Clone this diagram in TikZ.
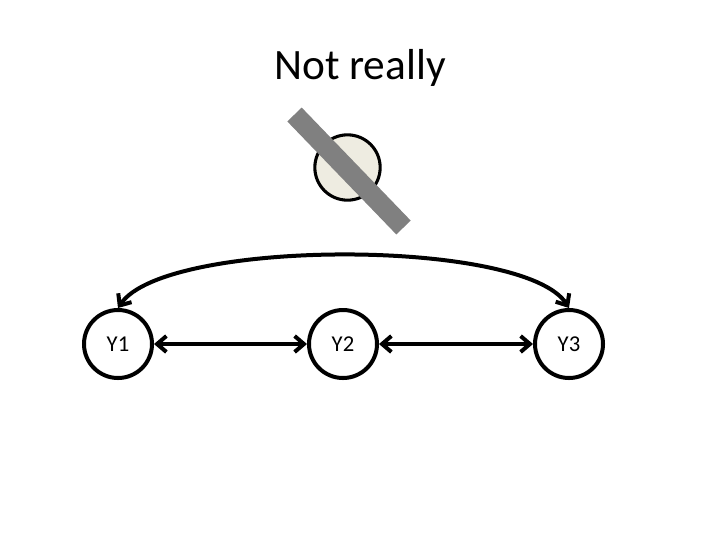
\documentclass[tikz,border=0pt]{standalone}
\usepackage{fontspec}
\setmainfont{Carlito}
\usetikzlibrary{arrows.meta}
\definecolor{beige}{HTML}{EEECE1}
\definecolor{bargray}{HTML}{808080}
\begin{document}
\begin{tikzpicture}[x=0.75pt,y=-0.75pt,
  var/.style={circle,draw=black,line width=3pt,minimum size=51pt,inner sep=0pt,font=\fontsize{17}{20}\selectfont},
  conn/.style={line width=3pt,{Straight Barb[length=7pt,width=12pt]}-{Straight Barb[length=7pt,width=12pt]}}]
\useasboundingbox (0,0) rectangle (720,540);
\node (title) at (360,68) {\fontsize{32.5}{38}\selectfont Not really};
\node[circle,draw=black,line width=2.3pt,fill=beige,minimum size=49pt,inner sep=0pt] (u) at (347.5,167.5) {};
\coordinate (b1) at (294.5,114.5);
\coordinate (b2) at (403.5,227.5);
\draw[bargray,line width=15pt] (b1) -- (b2);
\node[var] (y1) at (118,344) {Y1};
\node[var] (y2) at (343,344) {Y2};
\node[var] (y3) at (569,344) {Y3};
\draw[conn] (y1) -- (y2);
\draw[conn] (y2) -- (y3);
\draw[conn] (y1.north) .. controls (165,238) and (525,238) .. (y3.north);
\end{tikzpicture}
\end{document}
